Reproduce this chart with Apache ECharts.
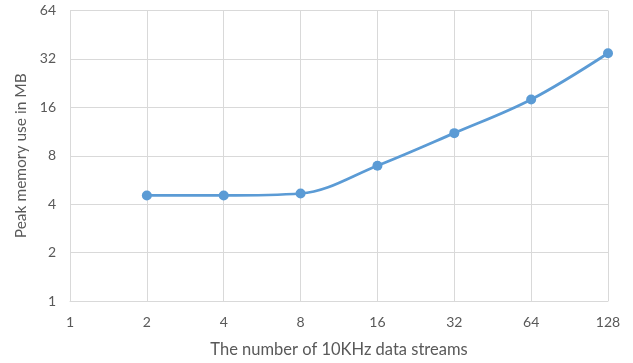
<!DOCTYPE html>
<html>
<head>
<meta charset="utf-8">
<script src="https://cdn.jsdelivr.net/npm/echarts@6/dist/echarts.min.js"></script>
<style>
  html, body { margin: 0; padding: 0; background: #fff; }
  #chart { width: 633px; height: 363px; }
</style>
</head>
<body>
<div id="chart"></div>
<script>
// Number of 10 kHz data streams (x) and measured peak memory in MB (y)
const streams = [2, 4, 8, 16, 32, 64, 128];
const peakMemoryMB = [4.53, 4.53, 4.66, 6.94, 11.06, 17.9, 34.7];

const xAxisName = 'The number of 10KHz data streams';
const yAxisName = 'Peak memory use in MB';

const textColor = '#595959';
const gridColor = '#d9d9d9';
const fontFamily = 'Lato, "Open Sans", "Liberation Sans", sans-serif';

const chart = echarts.init(document.getElementById('chart'), null, { renderer: 'canvas' });

chart.setOption({
  animation: false,
  backgroundColor: '#ffffff',
  grid: { left: 70, right: 25, top: 10.5, bottom: 61, containLabel: false },
  xAxis: {
    type: 'log',
    logBase: 2,
    min: 1,
    max: 128,
    name: xAxisName,
    nameLocation: 'middle',
    nameGap: 40,
    nameTextStyle: { color: textColor, fontSize: 16.5, fontFamily },
    axisLine: { show: true, lineStyle: { color: gridColor, width: 1 } },
    axisTick: { show: false },
    axisLabel: { color: textColor, fontSize: 14, fontFamily, margin: 14 },
    splitLine: { show: true, lineStyle: { color: gridColor, width: 1 } }
  },
  yAxis: {
    type: 'log',
    logBase: 2,
    min: 1,
    max: 64,
    name: yAxisName,
    nameLocation: 'middle',
    nameGap: 40,
    nameTextStyle: { color: textColor, fontSize: 15.5, fontFamily },
    axisLine: { show: false },
    axisTick: { show: false },
    axisLabel: { color: textColor, fontSize: 14, fontFamily, margin: 14 },
    splitLine: { show: true, lineStyle: { color: gridColor, width: 1 } }
  },
  series: [{
    type: 'line',
    data: streams.map((s, i) => [s, peakMemoryMB[i]]),
    smooth: 0.35,
    symbol: 'circle',
    symbolSize: 10,
    itemStyle: { color: '#5b9bd5' },
    lineStyle: { color: '#5b9bd5', width: 2.75 }
  }]
});
</script>
</body>
</html>
